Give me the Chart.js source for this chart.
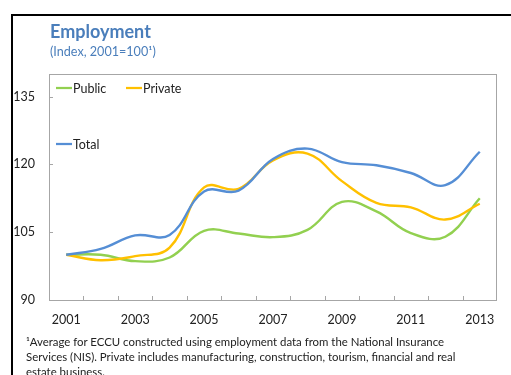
<!DOCTYPE html>
<html>
<head>
<meta charset="utf-8">
<script src="https://cdn.jsdelivr.net/npm/chart.js@4.4.1/dist/chart.umd.min.js"></script>
<style>
  html, body { margin: 0; padding: 0; background: #fff; }
  body { width: 511px; height: 375px; overflow: hidden; position: relative; font-family: Lato, "Noto Sans", sans-serif; }
  #frame { position: absolute; left: 11px; top: 14px; width: 700px; height: 500px;
           border-left: 2px solid #000; border-top: 2px solid #000; }
  #title { position: absolute; left: 50px; top: 21px; font-size: 18px; line-height: 21px;
           font-weight: bold; color: #4a7ebb; white-space: nowrap; }
  #subtitle { position: absolute; left: 50px; top: 44px; font-size: 12.6px; line-height: 15px;
              color: #4a7ebb; white-space: nowrap; }
  #chartBox { position: absolute; left: 0; top: 0; width: 511px; height: 375px; }
  #note { position: absolute; left: 26px; top: 334px; font-size: 11.4px; line-height: 15px;
          color: #222; white-space: nowrap; }
</style>
</head>
<body>
<div id="frame"></div>
<div id="chartBox"><canvas id="c" width="511" height="375"></canvas></div>
<div id="title">Employment</div>
<div id="subtitle">(Index, 2001=100¹)</div>
<div id="note">¹Average for ECCU constructed using employment data from the National Insurance<br>Services (NIS). Private includes manufacturing, construction, tourism, financial and real<br>estate business.</div>
<script>
// Years on the category axis
const years = ['2001','2002','2003','2004','2005','2006','2007','2008','2009','2010','2011','2012','2013'];

// Employment index series (2001 = 100)
const publicIdx  = [100, 100.0, 98.6, 99.4, 105.3, 104.7, 103.9, 105.5, 111.7, 109.6, 104.8, 104.0, 112.5];
const privateIdx = [100, 98.8, 99.7, 101.6, 114.9, 114.6, 120.9, 122.4, 116.3, 111.5, 110.5, 107.8, 111.3];
const totalIdx   = [100, 101.3, 104.3, 104.4, 114.0, 114.2, 121.2, 123.5, 120.5, 119.8, 118.1, 115.4, 122.8];

// Value-axis ticks
const yTicks = [90, 105, 120, 135];

const AXIS_GREY = '#a6a6a6';
const TEXT = '#222222';
const FONT = 'Lato, "Noto Sans", sans-serif';

// Plot box outline plus short inward tick marks on both axes
const boxAndTicks = {
  id: 'boxAndTicks',
  beforeDatasetsDraw(chart) {
    const { ctx, chartArea: a, scales: { x, y } } = chart;
    ctx.save();
    ctx.strokeStyle = AXIS_GREY;
    ctx.lineWidth = 1;
    ctx.strokeRect(Math.round(a.left) + 0.5, Math.round(a.top) + 0.5,
                   Math.round(a.right - a.left) - 1, Math.round(a.bottom - a.top));
    ctx.beginPath();
    const half = (x.getPixelForValue(1) - x.getPixelForValue(0)) / 2;
    for (let i = 1; i < years.length; i++) {
      const px = Math.round(x.getPixelForValue(i) - half) + 0.5;
      ctx.moveTo(px, a.bottom);
      ctx.lineTo(px, a.bottom - 4);
    }
    yTicks.forEach(v => {
      const py = Math.round(y.getPixelForValue(v)) + 0.5;
      ctx.moveTo(a.left, py);
      ctx.lineTo(a.left + 4, py);
    });
    ctx.stroke();
    ctx.restore();
  }
};

// Legend laid out in two rows inside the plot area
const insideLegend = {
  id: 'insideLegend',
  afterDraw(chart) {
    const { ctx, chartArea: a } = chart;
    const slots = [[7, 14], [77, 14], [7, 70]];
    ctx.save();
    ctx.font = '12.5px ' + FONT;
    ctx.textBaseline = 'middle';
    ctx.fillStyle = TEXT;
    chart.data.datasets.forEach((ds, i) => {
      const [dx, dy] = slots[i];
      const lx = a.left + dx, ly = a.top + dy;
      ctx.strokeStyle = ds.borderColor;
      ctx.lineWidth = 2.25;
      ctx.beginPath();
      ctx.moveTo(lx, ly);
      ctx.lineTo(lx + 16, ly);
      ctx.stroke();
      ctx.fillText(ds.label, lx + 17, ly + 0.5);
    });
    ctx.restore();
  }
};

const mkSeries = (label, data, color, order) => ({
  label, data, order,
  borderColor: color,
  backgroundColor: color,
  borderWidth: 2.4,
  pointRadius: 0,
  pointHoverRadius: 0,
  tension: 0.4,
  fill: false
});

new Chart(document.getElementById('c'), {
  type: 'line',
  data: {
    labels: years,
    datasets: [
      mkSeries('Public', publicIdx, '#92d050', 3),
      mkSeries('Private', privateIdx, '#ffc000', 2),
      mkSeries('Total', totalIdx, '#558ed5', 1)
    ]
  },
  options: {
    responsive: false,
    devicePixelRatio: 1,
    animation: false,
    layout: { padding: { top: 74, right: 14, left: 0, bottom: 0 } },
    plugins: { legend: { display: false }, tooltip: { enabled: false }, title: { display: false } },
    scales: {
      x: {
        type: 'category',
        offset: true,
        grid: { display: false, drawTicks: false },
        border: { display: false },
        afterFit(s) { s.height = 75; },
        ticks: {
          autoSkip: false,
          maxRotation: 0,
          padding: 12,
          color: TEXT,
          font: { family: FONT, size: 12.5 },
          callback(v, i) { return i % 2 === 0 ? years[i] : ''; }
        }
      },
      y: {
        min: 90,
        max: 140,
        grid: { display: false, drawTicks: false },
        border: { display: false },
        afterFit(s) { s.width = 49; },
        afterBuildTicks(s) { s.ticks = yTicks.map(v => ({ value: v })); },
        ticks: {
          padding: 14,
          color: TEXT,
          font: { family: FONT, size: 12.5 }
        }
      }
    }
  },
  plugins: [boxAndTicks, insideLegend]
});
</script>
</body>
</html>
